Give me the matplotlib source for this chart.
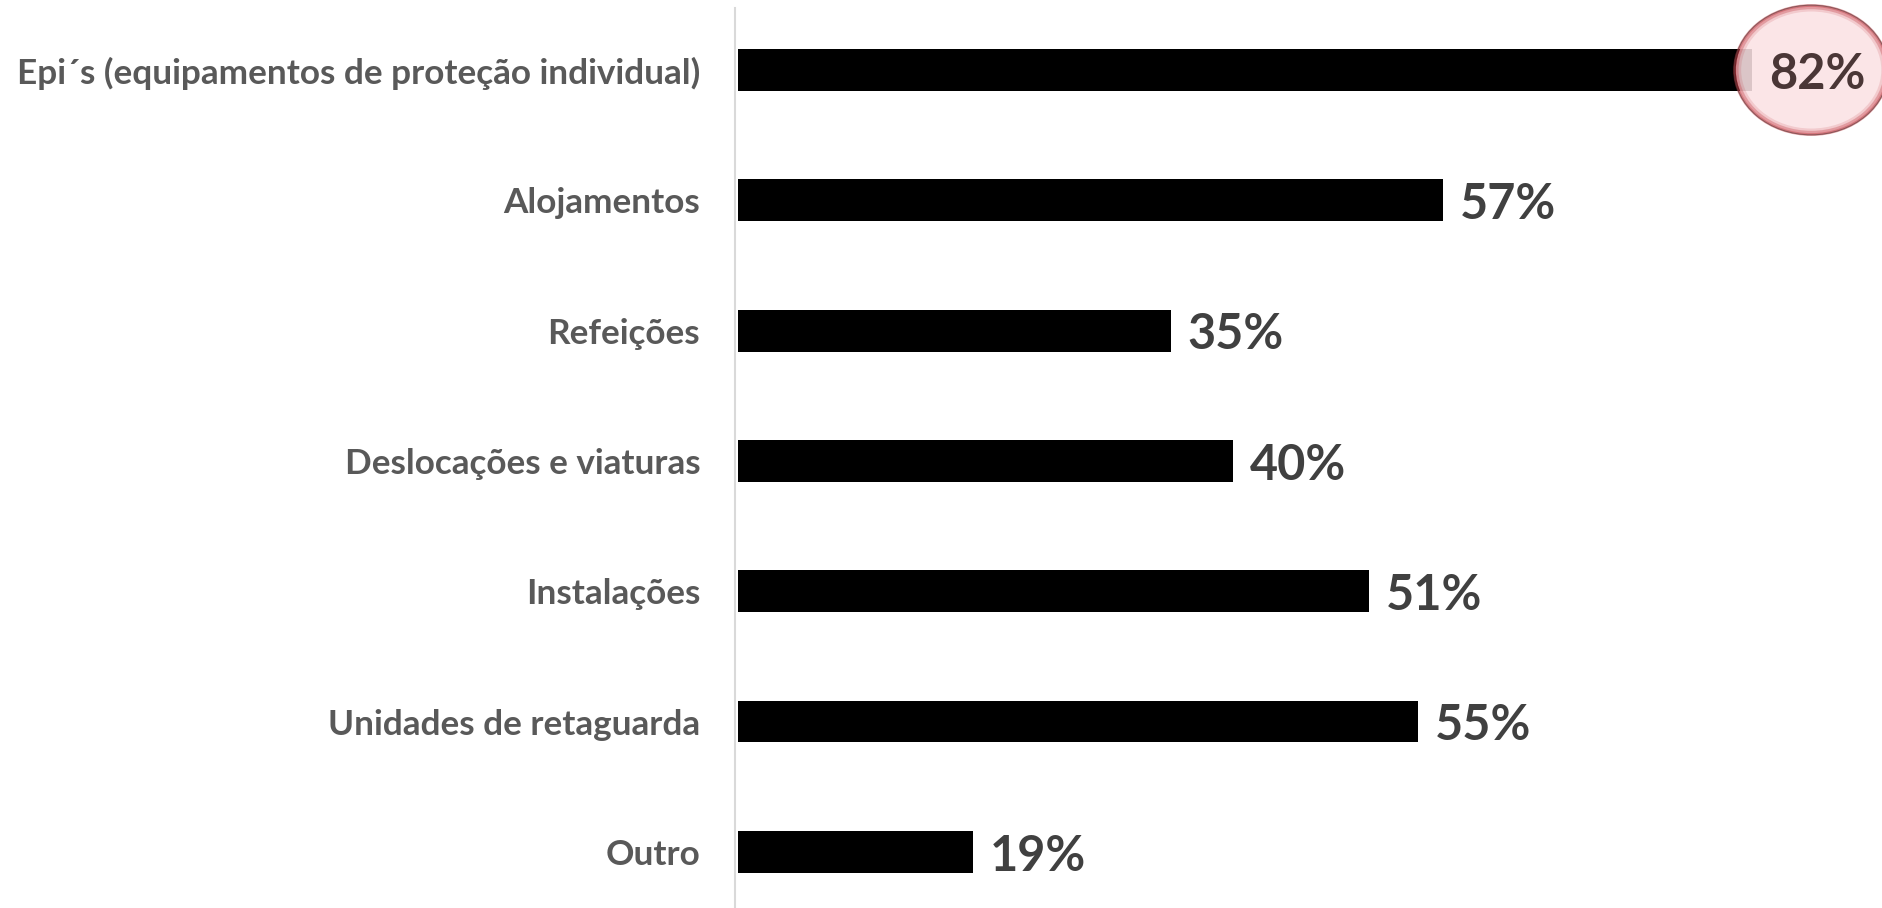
import numpy as np
from matplotlib import pyplot as plt
from matplotlib.patches import Ellipse

categories = ['Epi´s (equipamentos de proteção individual)', 'Alojamentos', 'Refeições',
              'Deslocações e viaturas', 'Instalações', 'Unidades de retaguarda', 'Outro']
values = [82, 57, 35, 40, 51, 55, 19]
value_labels = ['82%', '57%', '35%', '40%', '51%', '55%', '19%']

plt.rcParams['font.family'] = ['Lato', 'DejaVu Sans']

fig = plt.figure(figsize=(18.83, 9.08), dpi=100)
ax = fig.add_axes([0.3903, 0.0, 0.6097, 0.9912])

y = np.arange(len(categories))
ax.barh(y, values, height=0.32, color='black', left=0.25)

ax.set_xlim(0, 92.8)
ax.set_ylim(6.43, -0.476)
ax.set_yticks(y)
ax.set_yticklabels(categories, fontsize=25.3, fontweight='bold', color='#595959')
ax.tick_params(axis='y', length=0, pad=25)
ax.set_xticks([])
for s in ['top', 'right', 'bottom']:
    ax.spines[s].set_visible(False)
ax.spines['left'].set_color('#d9d9d9')
ax.spines['left'].set_linewidth(1.5)

# highlight circle on the top value
top = int(np.argmax(values))
cx = values[top] + 5.0
ax.add_patch(Ellipse((cx, top), 12.2, 0.97, facecolor='#fbe2e4', edgecolor='none',
                     alpha=0.88, clip_on=False, zorder=3))
for w, lw, a in [(1.0, 2.0, 0.45), (0.975, 3.0, 0.3), (0.95, 4.0, 0.15)]:
    ax.add_patch(Ellipse((cx, top), 12.4 * w, 0.99 * w, facecolor='none',
                         edgecolor='#c0303a', linewidth=lw, alpha=a,
                         clip_on=False, zorder=3))
ax.add_patch(Ellipse((cx, top), 12.45, 0.995, facecolor='none', edgecolor='#6a4040',
                     linewidth=0.8, alpha=0.7, clip_on=False, zorder=3))

for i, (v, lab) in enumerate(zip(values, value_labels)):
    col = '#4a3636' if i == top else '#404040'
    ax.annotate(lab, (v + 0.25, i), xytext=(12, -3), textcoords='offset points',
                va='center', ha='left', fontsize=35, fontweight='bold', color=col,
                zorder=4, annotation_clip=False)

fig.savefig('out.png', dpi=100)
